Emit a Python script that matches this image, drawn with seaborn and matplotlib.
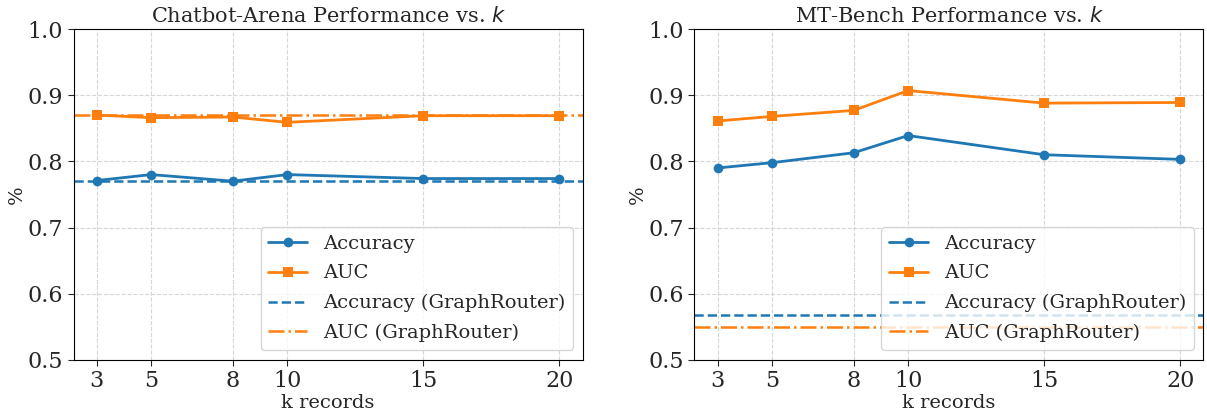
import matplotlib.pyplot as plt
import seaborn as sns

sns.set_style("white")
plt.rcParams["font.family"] = ["DejaVu Serif"]

K_VALUES = [3, 5, 8, 10, 15, 20]

CHATBOT_ACC = [0.771, 0.780, 0.770, 0.780, 0.774, 0.774]
CHATBOT_AUC = [0.870, 0.866, 0.867, 0.859, 0.869, 0.869]
CHATBOT_ACC_BASE = 0.771
CHATBOT_AUC_BASE = 0.870

MTBENCH_ACC = [0.790, 0.798, 0.813, 0.839, 0.810, 0.803]
MTBENCH_AUC = [0.861, 0.868, 0.877, 0.907, 0.888, 0.889]
MTBENCH_ACC_BASE = 0.567
MTBENCH_AUC_BASE = 0.549

TITLES = ["Chatbot-Arena Performance vs. $k$", "MT-Bench Performance vs. $k$"]

BLUE = "#1f77b4"
ORANGE = "#ff7f0e"


def draw_panel(ax, acc, auc, acc_base, auc_base, title):
    sns.lineplot(x=K_VALUES, y=acc, marker="o", markersize=7, markeredgewidth=0,
                 color=BLUE, linewidth=2, label="Accuracy", ax=ax)
    sns.lineplot(x=K_VALUES, y=auc, marker="s", markersize=7, markeredgewidth=0,
                 color=ORANGE, linewidth=2, label="AUC", ax=ax)
    ax.axhline(acc_base, color=BLUE, linestyle="--", linewidth=1.8, label="Accuracy (GraphRouter)")
    ax.axhline(auc_base, color=ORANGE, linestyle="-.", linewidth=1.8, label="AUC (GraphRouter)")
    ax.set_ylim(0.5, 1.0)
    ax.set_xticks(K_VALUES)
    ax.set_title(title, fontsize=15, pad=5)
    ax.set_xlabel("k records", fontsize=14, labelpad=1)
    ax.set_ylabel("%", fontsize=14, labelpad=1)
    ax.tick_params(axis="both", labelsize=16, left=True, bottom=True, length=4)
    ax.grid(True, linestyle="--", color="#cccccc", linewidth=0.8, alpha=0.8)
    for spine in ax.spines.values():
        spine.set_color("black")
    ax.legend(loc="lower right", fontsize=14, labelspacing=0.6, borderaxespad=0.5)


fig, axes = plt.subplots(1, 2, figsize=(12.07, 4.15), dpi=100)
draw_panel(axes[0], CHATBOT_ACC, CHATBOT_AUC, CHATBOT_ACC_BASE, CHATBOT_AUC_BASE, TITLES[0])
draw_panel(axes[1], MTBENCH_ACC, MTBENCH_AUC, MTBENCH_ACC_BASE, MTBENCH_AUC_BASE, TITLES[1])
fig.subplots_adjust(left=0.061, right=0.997, top=0.93, bottom=0.133, wspace=0.22)
fig.savefig("out.png", dpi=100)
